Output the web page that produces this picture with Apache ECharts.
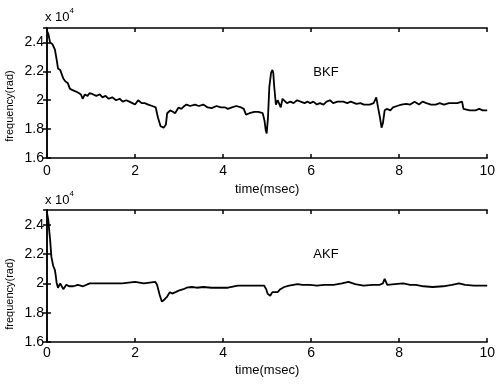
<!DOCTYPE html>
<html>
<head>
<meta charset="utf-8">
<script src="https://cdn.jsdelivr.net/npm/echarts@6/dist/echarts.min.js"></script>
<style>
html,body{margin:0;padding:0;background:#fff;}
#chart{width:498px;height:385px;}
</style>
</head>
<body>
<div id="chart"></div>
<script>
// Time axis (msec) and frequency values (x 10^4 rad)
var bkfTime = [0,0.03,0.07,0.12,0.18,0.22,0.25,0.3,0.37,0.42,0.47,0.52,0.58,0.66,0.72,0.77,0.81,0.86,0.92,0.97,1.05,1.12,1.2,1.26,1.33,1.4,1.48,1.57,1.65,1.72,1.8,1.87,1.94,2.0,2.07,2.15,2.22,2.3,2.39,2.47,2.52,2.58,2.65,2.7,2.73,2.8,2.86,2.91,2.95,2.99,3.05,3.12,3.17,3.25,3.36,3.45,3.55,3.65,3.74,3.85,3.95,4.05,4.11,4.2,4.3,4.41,4.47,4.52,4.6,4.71,4.8,4.9,4.94,4.97,4.99,5.02,5.05,5.09,5.12,5.14,5.16,5.2,5.24,5.28,5.31,5.35,5.39,5.45,5.53,5.6,5.68,5.76,5.85,5.92,5.98,6.05,6.13,6.2,6.28,6.35,6.43,6.5,6.6,6.73,6.82,6.9,7.03,7.12,7.2,7.33,7.42,7.48,7.52,7.56,7.6,7.63,7.67,7.72,7.8,7.86,7.95,8.05,8.16,8.25,8.35,8.45,8.53,8.62,8.72,8.83,8.92,9.02,9.13,9.22,9.32,9.43,9.46,9.5,9.6,9.73,9.82,9.9,10];
var bkfFreq = [2.48,2.46,2.40,2.39,2.35,2.28,2.22,2.21,2.15,2.13,2.12,2.08,2.07,2.06,2.05,2.04,2.01,2.04,2.03,2.05,2.04,2.03,2.04,2.02,2.03,2.01,2.02,2.00,2.01,1.99,2.00,1.99,1.98,1.97,2.00,1.98,1.98,1.97,1.96,1.95,1.88,1.82,1.81,1.83,1.91,1.93,1.92,1.91,1.93,1.95,1.94,1.96,1.97,1.96,1.97,1.96,1.97,1.95,1.945,1.96,1.95,1.95,1.94,1.95,1.96,1.95,1.94,1.90,1.91,1.92,1.92,1.91,1.86,1.79,1.77,1.88,2.09,2.19,2.21,2.19,2.10,1.97,2.00,2.01,1.95,2.01,2.00,1.98,1.99,1.98,2.00,1.99,1.98,1.99,1.98,1.99,1.97,1.98,1.97,1.99,2.00,1.98,1.99,1.99,1.98,1.99,1.975,1.98,1.97,1.97,1.98,2.02,1.95,1.886,1.81,1.84,1.93,1.94,1.93,1.95,1.96,1.97,1.975,1.97,1.99,1.97,1.99,1.98,1.97,1.97,1.98,1.97,1.98,1.98,1.98,1.99,1.94,1.94,1.93,1.93,1.94,1.93,1.93];

var akfTime = [0,0.03,0.05,0.07,0.1,0.14,0.18,0.2,0.22,0.25,0.3,0.37,0.44,0.5,0.6,0.7,0.82,0.97,1.2,1.5,1.71,2.0,2.2,2.46,2.5,2.56,2.61,2.67,2.73,2.79,2.84,2.92,2.99,3.1,3.17,3.29,3.4,3.55,3.74,3.9,4.11,4.25,4.34,4.5,4.7,4.93,4.98,5.01,5.07,5.12,5.16,5.24,5.3,5.39,5.5,5.69,5.8,5.98,6.13,6.3,6.51,6.7,6.85,7.0,7.19,7.4,7.56,7.63,7.67,7.73,7.9,8.09,8.25,8.38,8.55,8.76,9.0,9.2,9.36,9.5,9.7,9.85,10];
var akfFreq = [2.48,2.43,2.36,2.30,2.18,2.12,2.09,2.05,2.00,1.97,2.00,1.96,1.99,1.98,1.98,1.99,1.98,2.00,2.00,2.00,2.00,2.01,2.00,2.01,1.99,1.92,1.875,1.89,1.91,1.94,1.93,1.94,1.95,1.96,1.97,1.975,1.97,1.975,1.97,1.97,1.97,1.98,1.985,1.985,1.985,1.985,1.96,1.93,1.915,1.94,1.95,1.94,1.96,1.975,1.985,1.995,1.99,1.99,1.985,1.99,1.99,2.0,2.01,1.995,1.985,1.99,1.99,2.0,2.03,1.99,1.995,2.0,1.99,1.99,1.98,1.975,1.98,1.99,2.0,1.99,1.985,1.985,1.985];

var xTicks = [0, 2, 4, 6, 8, 10];
var yTicks = [1.6, 1.8, 2, 2.2, 2.4];
var panelNames = ['BKF', 'AKF'];
var xAxisName = 'time(msec)';
var yAxisName = 'frequency(rad)';

function pairs(t, v) { return t.map(function (x, i) { return [x, v[i]]; }); }

var FONT = 'Liberation Sans, Arial, sans-serif';
var grids = [
  {left: 47, right: 6, top: 28, height: 130},
  {left: 47, right: 6, top: 210, height: 132}
];

var xAxes = [], yAxes = [];
[0, 1].forEach(function (g) {
  xAxes.push({
    type: 'value', gridIndex: g, min: 0, max: 10, interval: 2, position: 'bottom',
    name: xAxisName, nameLocation: 'middle', nameGap: g === 0 ? 25 : 22,
    nameTextStyle: {color: '#000', fontFamily: FONT, fontSize: 13},
    axisLine: {show: true, lineStyle: {color: '#000', width: 1.5}},
    axisTick: {show: true, inside: true, length: 4, lineStyle: {color: '#000', width: 1.5}},
    axisLabel: {color: '#000', fontFamily: FONT, fontSize: 14, margin: g === 0 ? 6 : 4,
      formatter: function (v) { return xTicks.indexOf(v) >= 0 ? String(v) : ''; }},
    splitLine: {show: false}
  });
  xAxes.push({
    type: 'value', gridIndex: g, min: 0, max: 10, interval: 2, position: 'top',
    axisLine: {show: true, lineStyle: {color: '#000', width: 1.5}},
    axisTick: {show: true, inside: true, length: 4, lineStyle: {color: '#000', width: 1.5}},
    axisLabel: {show: false}, splitLine: {show: false}
  });
  yAxes.push({
    type: 'value', gridIndex: g, min: 1.6, max: 2.5, interval: 0.2, position: 'left',
    axisLine: {show: true, lineStyle: {color: '#000', width: 1.5}},
    axisTick: {show: true, inside: true, length: 4, lineStyle: {color: '#000', width: 1.5}},
    axisLabel: {color: '#000', fontFamily: FONT, fontSize: 14, margin: 3, showMaxLabel: false,
      formatter: function (v) {
        var r = Math.round(v * 10) / 10;
        return yTicks.indexOf(r) >= 0 ? String(r) : '';
      }},
    splitLine: {show: false}
  });
  yAxes.push({
    type: 'value', gridIndex: g, min: 1.6, max: 2.5, interval: 0.2, position: 'right',
    axisLine: {show: true, lineStyle: {color: '#000', width: 1.5}},
    axisTick: {show: true, inside: true, length: 4, lineStyle: {color: '#000', width: 1.5}},
    axisLabel: {show: false}, splitLine: {show: false}
  });
});

var series = [
  {type: 'line', xAxisIndex: 0, yAxisIndex: 0, data: pairs(bkfTime, bkfFreq), showSymbol: false,
   lineStyle: {color: '#000', width: 1.8}, animation: false},
  {type: 'line', xAxisIndex: 2, yAxisIndex: 2, data: pairs(akfTime, akfFreq), showSymbol: false,
   lineStyle: {color: '#000', width: 1.8}, animation: false}
];

function mult(x, y) {
  return {type: 'text', left: x, top: y, style: {
    text: '{a|x 10}{b|4}', fill: '#000',
    rich: {a: {fontFamily: FONT, fontSize: 13, fill: '#000', verticalAlign: 'bottom'},
           b: {fontFamily: FONT, fontSize: 8, fill: '#000', verticalAlign: 'top', padding: [0, 0, 9, 0]}}
  }};
}
function yname(x, y) {
  return {type: 'text', x: x, y: y, rotation: Math.PI / 2, style: {
    text: yAxisName, fill: '#000', fontFamily: FONT, fontSize: 11, align: 'center', verticalAlign: 'middle'}};
}
function panel(name, x, y) {
  return {type: 'text', x: x, y: y, style: {
    text: name, fill: '#000', fontFamily: FONT, fontSize: 13, align: 'center', verticalAlign: 'middle'}};
}

var chart = echarts.init(document.getElementById('chart'), null, {renderer: 'canvas'});
chart.setOption({
  animation: false,
  backgroundColor: '#fff',
  grid: grids,
  xAxis: xAxes,
  yAxis: yAxes,
  series: series,
  graphic: [
    mult(45, 7), mult(45, 190),
    yname(10, 106), yname(10, 294),
    panel(panelNames[0], 326, 72), panel(panelNames[1], 326, 254)
  ]
});
</script>
</body>
</html>
